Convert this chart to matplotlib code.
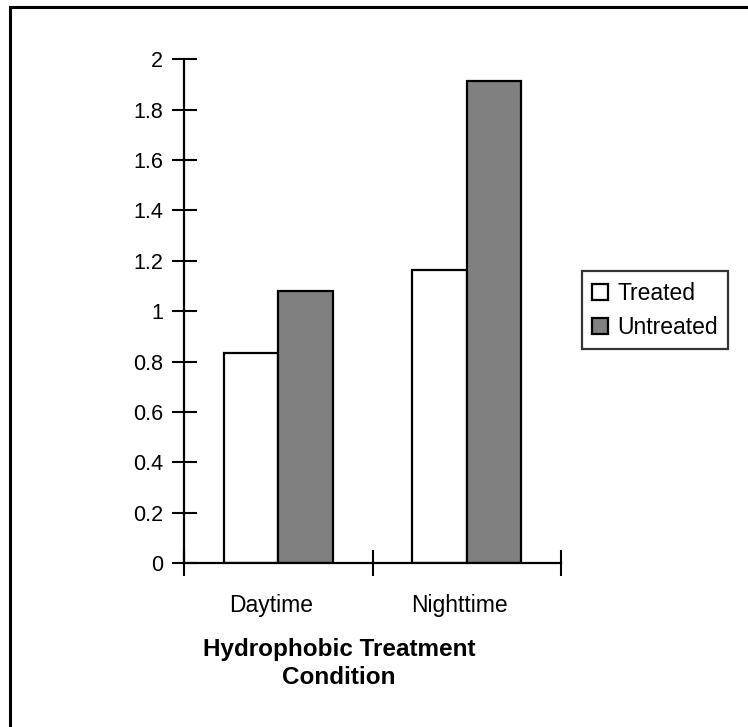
import numpy as np
import matplotlib.pyplot as plt
from matplotlib.patches import Rectangle

plt.rcParams['font.family'] = ['Liberation Sans', 'DejaVu Sans']

categories = ['Daytime', 'Nighttime']
treated = [0.835, 1.165]
untreated = [1.08, 1.915]
series_names = ['Treated', 'Untreated']
yticks = [0, 0.2, 0.4, 0.6, 0.8, 1, 1.2, 1.4, 1.6, 1.8, 2]
ytick_labels = ['0', '0.2', '0.4', '0.6', '0.8', '1', '1.2', '1.4', '1.6', '1.8', '2']

fig = plt.figure(figsize=(7.48, 7.27), dpi=100)
ax = fig.add_axes([0.246, 0.2256, 0.504, 0.6928])

x = np.arange(len(categories))
w = 0.29
ax.bar(x - w/2, treated, w, color='white', edgecolor='black', linewidth=1.6,
       label=series_names[0])
ax.bar(x + w/2, untreated, w, color='#808080', edgecolor='black', linewidth=1.6,
       label=series_names[1])

ax.set_xlim(-0.5, 1.5)
ax.set_ylim(0, 2)
ax.set_yticks(yticks)
ax.set_yticklabels(ytick_labels)
ax.set_xticks([-0.5, 0.5, 1.5])
ax.set_xticklabels([])
ax.set_xticks(x - 0.04, minor=True)
ax.set_xticklabels(categories, minor=True)
ax.tick_params(axis='x', which='minor', length=0, pad=22, labelsize=16.5)
ax.tick_params(axis='x', which='major', direction='inout', length=19, width=1.5)
ax.tick_params(axis='y', direction='inout', length=18, width=1.5, labelsize=15.5, pad=6)

for s in ['top', 'right']:
    ax.spines[s].set_visible(False)
for s in ['left', 'bottom']:
    ax.spines[s].set_linewidth(1.6)

fig.text(0.453, 0.087, 'Hydrophobic Treatment\nCondition', ha='center', va='center',
         fontsize=17.5, fontweight='bold', linespacing=1.3)

leg = fig.legend(loc='center left', bbox_to_anchor=(0.778, 0.573), fontsize=16.5,
                 frameon=True, fancybox=False, handlelength=0.7, handleheight=0.7,
                 handletextpad=0.4, borderpad=0.45, labelspacing=0.5, borderaxespad=0)
leg.get_frame().set_edgecolor('black')
leg.get_frame().set_linewidth(1.6)

# outer chart border (only top and left visible in the crop)
fig.patches.append(Rectangle((10/748, -0.1), 1.2, 1 - 7/727 + 0.1, transform=fig.transFigure,
                             fill=False, edgecolor='black', linewidth=2.2))

fig.savefig('out.png', dpi=100)
